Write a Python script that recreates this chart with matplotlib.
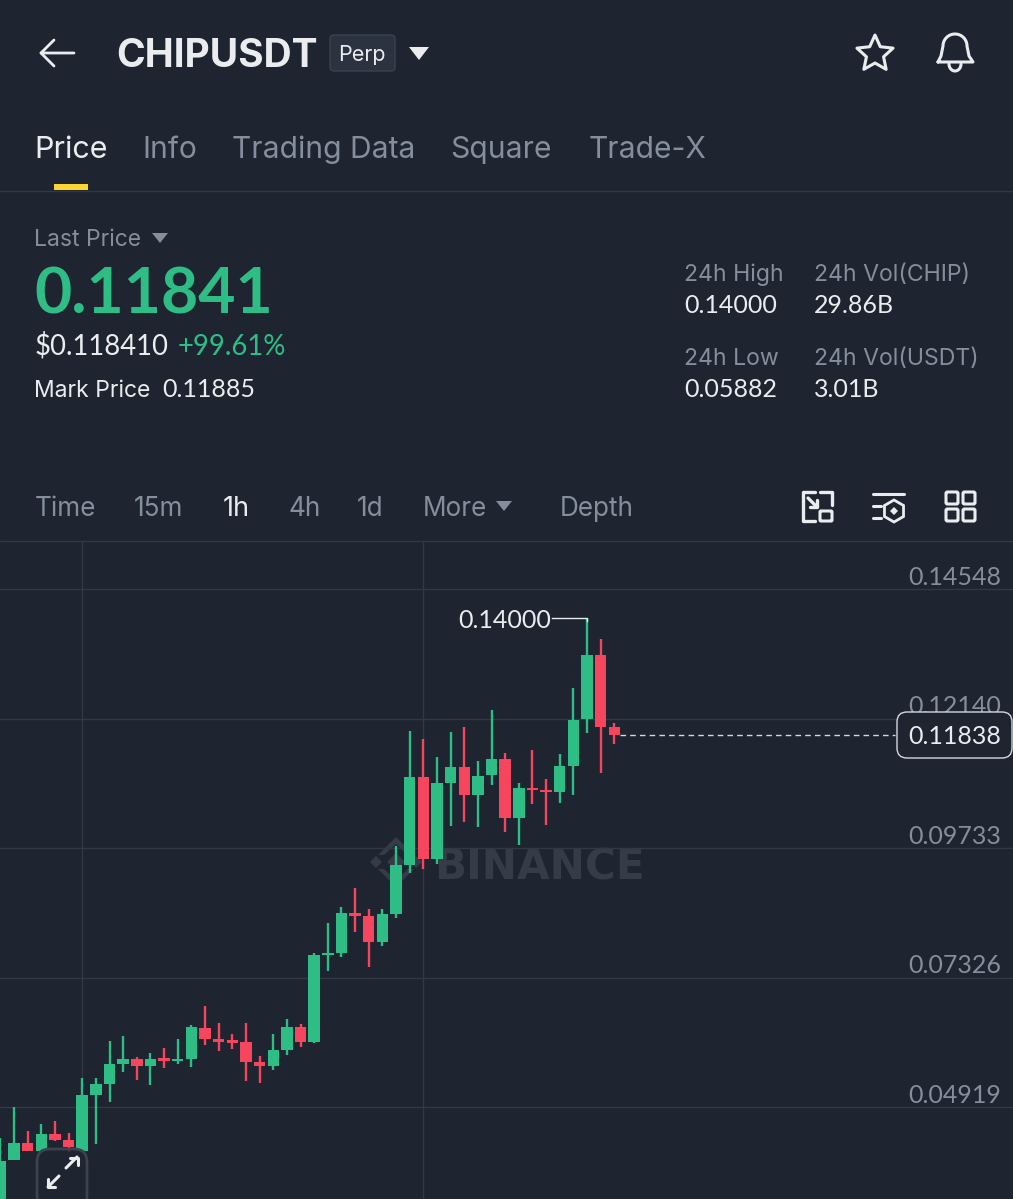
import matplotlib
matplotlib.use('Agg')
import matplotlib.pyplot as plt
from matplotlib.patches import FancyBboxPatch, Polygon, Rectangle
from matplotlib.transforms import blended_transform_factory
import numpy as np

plt.rcParams['font.family'] = ['Inter', 'DejaVu Sans']
NUM_FONT = ['Lato', 'DejaVu Sans']  # tabular digits, like the app

# 1h candles, oldest first
opens = [.03006, .03935, .04256, .04097, .04412, .04307, .04097, .05149, .05347, .05719,
         .05818, .05688, .05825, .05769, .05818, .06394, .06178, .06165, .06128, .05756,
         .05688, .05979, .06401, .06128, .07740, .07777, .08526, .08470, .07987, .08507,
         .09418, .11054, .09530, .10937, .11240, .10725, .11085, .11388, .10292, .10855,
         .10812, .10780, .11258, .12126, .13316, .11983]
highs = [.04344, .04914, .04479, .04604, .04665, .04442, .05459, .05459, .06141, .06240,
         .05844, .05918, .06011, .06189, .06438, .06803, .06487, .06271, .06476, .05862,
         .06277, .06556, .06457, .07777, .08345, .08643, .08985, .08595, .08595, .09777,
         .11909, .11766, .11431, .11896, .11977, .11345, .12299, .11500, .10937, .11550,
         .11022, .11476, .12713, .14000, .13624, .12057]
lows = [.03006, .03935, .04097, .04097, .04288, .04089, .04097, .04227, .05007, .05576,
        .05422, .05334, .05645, .05719, .05669, .06078, .05961, .06004, .05409, .05360,
        .05608, .05892, .06041, .06115, .07453, .07708, .08167, .07522, .07912, .08433,
        .09275, .09338, .09437, .10143, .10223, .10119, .10905, .10031, .09790, .10552,
        .10161, .10570, .10725, .11877, .11122, .11673]
closes = [.03922, .04256, .04097, .04412, .04307, .04171, .05143, .05347, .05719, .05818,
          .05688, .05818, .05769, .05818, .06407, .06178, .06134, .06115, .05756, .05688,
          .05979, .06401, .06128, .07745, .07782, .08531, .08476, .07987, .08507, .09424,
          .11054, .09530, .10937, .11240, .10725, .11078, .11388, .10292, .10849, .10818,
          .10769, .11253, .12113, .13321, .11983, .11838]

price_ticks = [0.14548, 0.12140, 0.09733, 0.07326, 0.04919]
tick_labels = ['0.14548', '0.12140', '0.09733', '0.07326', '0.04919']
time_ticks = [6, 31]
last_price = 0.11838
high_price = 0.14000

BG = '#1e2530'
GREEN = '#2ebd85'
RED = '#f6465d'
GREY = '#848e9c'
WHITE = '#eaecef'
GRID = '#333944'
MARK = '#363c47'

W, H = 1013, 1199
fig = plt.figure(figsize=(W / 100, H / 100), dpi=100, facecolor=BG)

# back layer, pixel coordinates
bg = fig.add_axes([0, 0, 1, 1], zorder=0)
bg.set_xlim(0, W)
bg.set_ylim(H, 0)
bg.axis('off')

# watermark logo
for cx, cy, r in [(396, 862, 9), (376, 862, 6), (416, 862, 6)]:
    bg.add_patch(Polygon([(cx, cy - r), (cx + r, cy), (cx, cy + r), (cx - r, cy)], color=MARK, lw=0))
bg.add_patch(Polygon([(396, 837), (414, 855), (408, 855), (396, 844), (384, 855), (378, 855)], color=MARK, lw=0))
bg.add_patch(Polygon([(396, 887), (414, 869), (408, 869), (396, 880), (384, 869), (378, 869)], color=MARK, lw=0))
bg.text(434, 879, 'BINANCE', fontsize=30.3, fontweight='bold', color=MARK, va='baseline', family='DejaVu Sans')

# price chart
ax = fig.add_axes([0, 0, 1, (H - 541) / H], zorder=1)
ax.patch.set_alpha(0)
ax.set_xlim(-0.026, 74.22)
ax.set_ylim(0.03210, 0.15440)
for s in ax.spines.values():
    s.set_visible(False)
ax.set_xticks(time_ticks)
ax.set_yticks(price_ticks)
ax.tick_params(length=0, labelbottom=False, labelleft=False)
ax.grid(True, color=GRID, lw=1)
ax.set_axisbelow(True)

idx = np.arange(len(opens))
o = np.array(opens)
c = np.array(closes)
colors = [GREEN if c[i] >= o[i] else RED for i in idx]
ax.vlines(idx, lows, highs, colors=colors, lw=1.7, zorder=3)
ax.bar(idx, np.abs(c - o), bottom=np.minimum(o, c), width=0.84, color=colors, lw=0, zorder=4)

# last price line and the high marker
ax.plot([45.45, 65.6], [last_price, last_price], color='#d5d8dc', lw=1, dashes=(4, 3), zorder=3)
ax.plot([40.4, 43, 43], [high_price, high_price, high_price - 0.0004], color=WHITE, lw=1, zorder=3)
ax.annotate('0.14000', (40.4, high_price), ha='right', va='center_baseline', fontsize=18, color=WHITE, family=NUM_FONT)

yaxis_tr = blended_transform_factory(fig.transFigure, ax.transData)
for p, t in zip(price_ticks, tick_labels):
    ax.annotate(t, (1001 / W, p), xycoords=yaxis_tr, xytext=(0, 3), textcoords='offset points',
                ha='right', va='baseline', fontsize=18, color=GREY, family=NUM_FONT)

# front layer, pixel coordinates
ui = fig.add_axes([0, 0, 1, 1], zorder=2)
ui.set_xlim(0, W)
ui.set_ylim(H, 0)
ui.axis('off')
ui.patch.set_alpha(0)


def label(x, y, s, size=17, color=WHITE, weight='normal', ha='left', num=False):
    ui.text(x, y, s, fontsize=size, color=color, fontweight=weight, ha=ha, va='baseline',
            family=NUM_FONT if num else plt.rcParams['font.family'])


def tri(x, y, w, h, color):
    ui.add_patch(Polygon([(x - w / 2, y), (x + w / 2, y), (x, y + h)], color=color, lw=0))


def line(xs, ys, lw=2.0, color=WHITE):
    ui.plot(xs, ys, color=color, lw=lw, solid_capstyle='round', solid_joinstyle='round')


def rbox(x, y, w, h, r, fc='none', ec=WHITE, lw=2.0):
    ui.add_patch(FancyBboxPatch((x + r, y + r), w - 2 * r, h - 2 * r, boxstyle='round,pad=%f,rounding_size=%f' % (r, r),
                                fc=fc, ec=ec, lw=lw))


# header
line([74, 41, 54], [53, 53, 40])
line([41, 54], [53, 66])
label(116, 67, 'CHIPUSDT', 28, WHITE, 'bold')
rbox(330, 35, 65, 36, 4, fc='#2b3240', ec='#3b4250', lw=1)
label(361.5, 61, 'Perp', 15.5, WHITE, ha='center')
tri(419, 47, 20, 13, WHITE)

# star
ang = np.deg2rad(np.arange(0, 361, 36) - 90)
rad = np.array([19, 9] * 5 + [19])
ui.add_patch(Polygon(np.c_[875 + rad * np.cos(ang), 54 + rad * np.sin(ang)], fill=False, ec=WHITE, lw=2.2, joinstyle='round'))

# bell
t = np.linspace(np.pi, 2 * np.pi, 30)
bx = np.r_[938, 941, 943, 955 + 12 * np.cos(t), 967, 969, 973, 938]
by = np.r_[62, 56, 46, 46 + 12 * np.sin(t), 46, 56, 62, 62]
line(bx, by, 2.2)
t = np.linspace(0, np.pi, 20)
line(955 + 6 * np.cos(t), 64 + 7 * np.sin(t), 2.2)

# tabs
label(34, 158, 'Price', 22, WHITE)
for x, s in [(142, 'Info'), (232.5, 'Trading Data'), (450, 'Square'), (589, 'Trade-X')]:
    label(x, 158, s, 21.6, GREY)
ui.add_patch(Rectangle((54, 184), 34, 6, color='#fcd535', lw=0))
line([0, W], [190.5, 190.5], 1, GRID)

# price block
label(34, 246, 'Last Price', 16.5, GREY)
tri(160, 233, 16, 10, GREY)
label(34, 313, '0.11841', 46.3, GREEN, 'bold', num=True)
label(34.5, 355, '$0.118410', 19.8, WHITE, num=True)
label(178, 355, '+99.61%', 19.8, GREEN, num=True)
label(34, 397, 'Mark Price', 16.5, WHITE)
label(162, 397, '0.11885', 18, WHITE, num=True)

label(683.5, 281, '24h High', 16.6, GREY)
label(813.5, 281, '24h Vol(CHIP)', 16.6, GREY)
label(684, 313, '0.14000', 18, WHITE, num=True)
label(814, 313, '29.86B', 18, WHITE, num=True)
label(683.5, 365, '24h Low', 16.6, GREY)
label(813.5, 365, '24h Vol(USDT)', 16.6, GREY)
label(684, 397, '0.05882', 18, WHITE, num=True)
label(814, 397, '3.01B', 18, WHITE, num=True)

# interval row
for x, s in [(34.5, 'Time'), (134, '15m'), (288.5, '4h'), (357, '1d'), (422.5, 'More'), (559.5, 'Depth')]:
    label(x, 516, s, 18.8, GREY)
label(223, 516, '1h', 19.5, WHITE)
tri(504, 501, 16, 10, GREY)
line([0, W], [540.5, 540.5], 1, GRID)

# toolbar icons
line([815, 803, 803, 815], [492, 492, 521, 521], 2.4)
line([820, 832, 832], [492, 492, 505], 2.4)
rbox(820, 511, 12, 10, 1, lw=2.2)
line([808, 817], [498, 507], 2.4)
line([810, 817, 817], [507, 507, 500], 2.4)

line([873, 904], [494, 494], 2.2)
line([873, 881], [506, 506], 2.2)
line([873, 881], [518, 518], 2.2)
ang = np.deg2rad(np.arange(30, 391, 60))
ui.add_patch(Polygon(np.c_[894 + 11 * np.cos(ang), 511 + 11 * np.sin(ang)], fill=False, ec=WHITE, lw=2))
ui.add_patch(Polygon([(894, 507), (898, 511), (894, 515), (890, 511)], color=WHITE, lw=0))

for bxx, byy in [(946, 492), (963, 492), (946, 509), (963, 509)]:
    rbox(bxx, byy, 12, 12, 1.5, lw=2.2)

# current price tag
rbox(897, 712, 115, 46, 10, fc=BG, ec='#d5d8dc', lw=1)
label(1001, 744, '0.11838', 18, WHITE, ha='right', num=True)

# expand button
rbox(37, 1149, 50, 60, 13, fc='#1e2530d0', ec='#3c424e', lw=2)
line([66, 77], [1168, 1157], 2.2)
line([70, 77.5, 77.5], [1158, 1158, 1165], 2.2)
line([48, 59], [1187, 1176], 2.2)
line([48, 48, 55], [1179, 1187, 1187], 2.2)

fig.savefig('out.png', dpi=100, facecolor=BG)
